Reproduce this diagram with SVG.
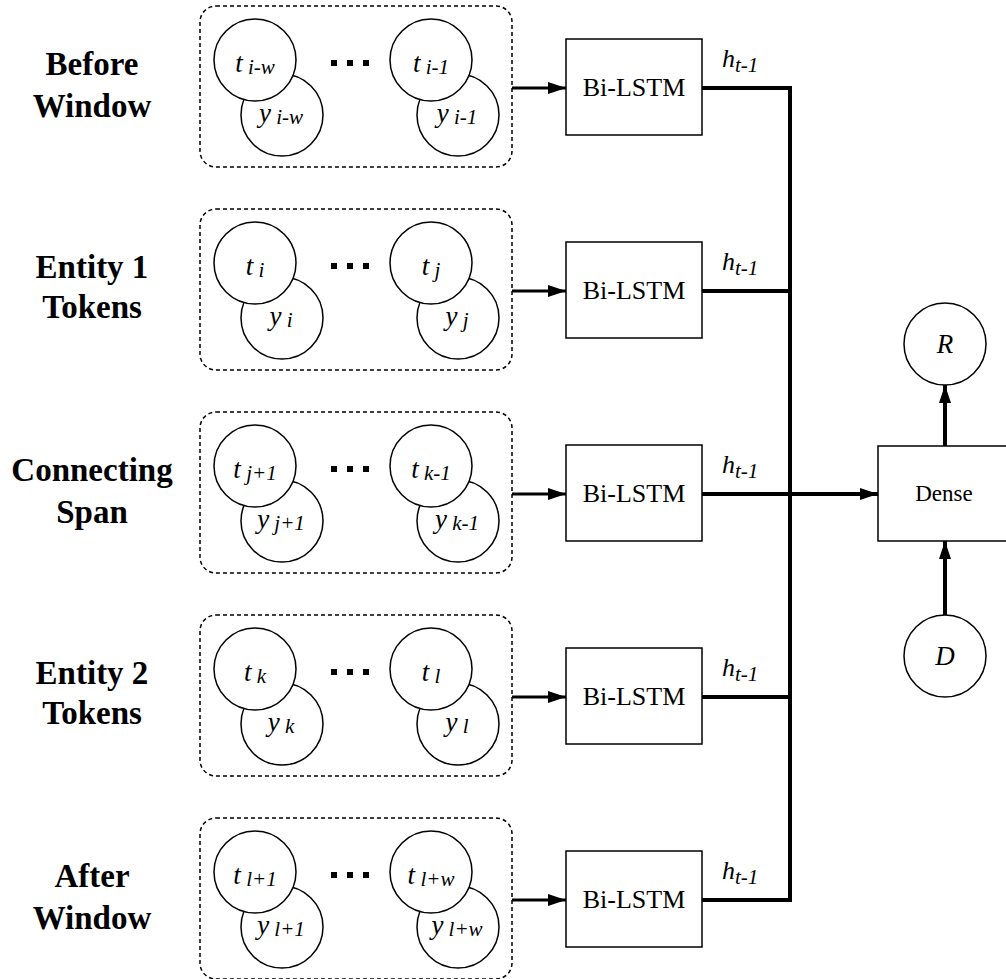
<svg xmlns="http://www.w3.org/2000/svg" width="1006" height="979" viewBox="0 0 1006 979" font-family="'Liberation Serif', serif">
<style>
.bg{fill:#fff}
.cont{fill:none;stroke:#000;stroke-width:1.5;stroke-dasharray:4 3}
.circ{fill:#fff;stroke:#000;stroke-width:1.5}
.box{fill:#fff;stroke:#000;stroke-width:1.5}
.lbl{font-weight:bold;font-size:33px;text-anchor:middle}
.var{font-style:italic;font-size:27px;text-anchor:middle}
.sub{font-size:21px}
.bt{font-size:26px;text-anchor:middle}
.dt{font-size:23px;text-anchor:middle}
.ht{font-style:italic;font-size:26px}
.in{fill:none;stroke:#000;stroke-width:3}
.out{fill:none;stroke:#000;stroke-width:4}
.dot{fill:#000}
</style>
<defs>
<marker id="ah" markerUnits="userSpaceOnUse" markerWidth="18" markerHeight="12" refX="18" refY="6" orient="auto">
<path d="M0,0 L18,6 L0,12 z" fill="#000"/>
</marker>
<g id="dots"><rect class="dot" x="331" y="0" width="6" height="6"/><rect class="dot" x="347" y="0" width="6" height="6"/><rect class="dot" x="363" y="0" width="6" height="6"/></g>
</defs>
<rect class="bg" x="0" y="0" width="1006" height="979"/>

<!-- Row 1 -->
<g id="row1">
<text class="lbl" x="92" y="75" font-family="'Liberation Serif', serif">Before</text>
<text class="lbl" x="92" y="117" font-family="'Liberation Serif', serif">Window</text>
<rect class="cont" x="200" y="6" width="312" height="161" rx="16"/>
<circle class="circ" cx="282" cy="115" r="41"/>
<circle class="circ" cx="255" cy="60" r="41"/>
<text class="var" x="255" y="72" font-family="'Liberation Serif', serif">t<tspan class="sub" dy="2"> i-w</tspan></text>
<text class="var" x="281" y="122" font-family="'Liberation Serif', serif">y<tspan class="sub" dy="2"> i-w</tspan></text>
<use href="#dots" y="60"/>
<circle class="circ" cx="458" cy="115" r="41"/>
<circle class="circ" cx="431" cy="60" r="41"/>
<text class="var" x="431" y="72" font-family="'Liberation Serif', serif">t<tspan class="sub" dy="2"> i-1</tspan></text>
<text class="var" x="457" y="122" font-family="'Liberation Serif', serif">y<tspan class="sub" dy="2"> i-1</tspan></text>
</g>
<g id="lstm1"><rect class="box" x="566" y="39" width="136" height="96"/><text class="bt" x="634" y="96" font-family="'Liberation Serif', serif">Bi-LSTM</text></g>

<!-- Row 2 -->
<g id="row2">
<text class="lbl" x="92" y="278" font-family="'Liberation Serif', serif">Entity 1</text>
<text class="lbl" x="92" y="318" font-family="'Liberation Serif', serif">Tokens</text>
<rect class="cont" x="200" y="209" width="312" height="161" rx="16"/>
<circle class="circ" cx="282" cy="318" r="41"/>
<circle class="circ" cx="255" cy="263" r="41"/>
<text class="var" x="255" y="275" font-family="'Liberation Serif', serif">t<tspan class="sub" dy="2"> i</tspan></text>
<text class="var" x="281" y="325" font-family="'Liberation Serif', serif">y<tspan class="sub" dy="2"> i</tspan></text>
<use href="#dots" y="263"/>
<circle class="circ" cx="458" cy="318" r="41"/>
<circle class="circ" cx="431" cy="263" r="41"/>
<text class="var" x="431" y="275" font-family="'Liberation Serif', serif">t<tspan class="sub" dy="2"> j</tspan></text>
<text class="var" x="457" y="325" font-family="'Liberation Serif', serif">y<tspan class="sub" dy="2"> j</tspan></text>
</g>
<g id="lstm2"><rect class="box" x="566" y="242" width="136" height="96"/><text class="bt" x="634" y="299" font-family="'Liberation Serif', serif">Bi-LSTM</text></g>

<!-- Row 3 -->
<g id="row3">
<text class="lbl" x="92" y="481" font-family="'Liberation Serif', serif">Connecting</text>
<text class="lbl" x="92" y="523" font-family="'Liberation Serif', serif">Span</text>
<rect class="cont" x="200" y="412" width="312" height="161" rx="16"/>
<circle class="circ" cx="282" cy="521" r="41"/>
<circle class="circ" cx="255" cy="466" r="41"/>
<text class="var" x="255" y="478" font-family="'Liberation Serif', serif">t<tspan class="sub" dy="2"> j+1</tspan></text>
<text class="var" x="281" y="528" font-family="'Liberation Serif', serif">y<tspan class="sub" dy="2"> j+1</tspan></text>
<use href="#dots" y="466"/>
<circle class="circ" cx="458" cy="521" r="41"/>
<circle class="circ" cx="431" cy="466" r="41"/>
<text class="var" x="431" y="478" font-family="'Liberation Serif', serif">t<tspan class="sub" dy="2"> k-1</tspan></text>
<text class="var" x="457" y="528" font-family="'Liberation Serif', serif">y<tspan class="sub" dy="2"> k-1</tspan></text>
</g>
<g id="lstm3"><rect class="box" x="566" y="445" width="136" height="96"/><text class="bt" x="634" y="502" font-family="'Liberation Serif', serif">Bi-LSTM</text></g>

<!-- Row 4 -->
<g id="row4">
<text class="lbl" x="92" y="684" font-family="'Liberation Serif', serif">Entity 2</text>
<text class="lbl" x="92" y="724" font-family="'Liberation Serif', serif">Tokens</text>
<rect class="cont" x="200" y="615" width="312" height="161" rx="16"/>
<circle class="circ" cx="282" cy="724" r="41"/>
<circle class="circ" cx="255" cy="669" r="41"/>
<text class="var" x="255" y="681" font-family="'Liberation Serif', serif">t<tspan class="sub" dy="2"> k</tspan></text>
<text class="var" x="281" y="731" font-family="'Liberation Serif', serif">y<tspan class="sub" dy="2"> k</tspan></text>
<use href="#dots" y="669"/>
<circle class="circ" cx="458" cy="724" r="41"/>
<circle class="circ" cx="431" cy="669" r="41"/>
<text class="var" x="431" y="681" font-family="'Liberation Serif', serif">t<tspan class="sub" dy="2"> l</tspan></text>
<text class="var" x="457" y="731" font-family="'Liberation Serif', serif">y<tspan class="sub" dy="2"> l</tspan></text>
</g>
<g id="lstm4"><rect class="box" x="566" y="648" width="136" height="96"/><text class="bt" x="634" y="705" font-family="'Liberation Serif', serif">Bi-LSTM</text></g>

<!-- Row 5 -->
<g id="row5">
<text class="lbl" x="92" y="887" font-family="'Liberation Serif', serif">After</text>
<text class="lbl" x="92" y="929" font-family="'Liberation Serif', serif">Window</text>
<rect class="cont" x="200" y="818" width="312" height="161" rx="16"/>
<circle class="circ" cx="282" cy="927" r="41"/>
<circle class="circ" cx="255" cy="872" r="41"/>
<text class="var" x="255" y="884" font-family="'Liberation Serif', serif">t<tspan class="sub" dy="2"> l+1</tspan></text>
<text class="var" x="281" y="934" font-family="'Liberation Serif', serif">y<tspan class="sub" dy="2"> l+1</tspan></text>
<use href="#dots" y="872"/>
<circle class="circ" cx="458" cy="927" r="41"/>
<circle class="circ" cx="431" cy="872" r="41"/>
<text class="var" x="431" y="884" font-family="'Liberation Serif', serif">t<tspan class="sub" dy="2"> l+w</tspan></text>
<text class="var" x="457" y="934" font-family="'Liberation Serif', serif">y<tspan class="sub" dy="2"> l+w</tspan></text>
</g>
<g id="lstm5"><rect class="box" x="566" y="851" width="136" height="96"/><text class="bt" x="634" y="908" font-family="'Liberation Serif', serif">Bi-LSTM</text></g>

<!-- Right side nodes -->
<g id="dense"><rect class="box" x="878" y="446" width="140" height="95"/><text class="dt" x="944" y="501" font-family="'Liberation Serif', serif">Dense</text></g>
<g id="R"><circle class="circ" cx="945" cy="344" r="41"/><text class="var" x="945" y="353" font-family="'Liberation Serif', serif">R</text></g>
<g id="D"><circle class="circ" cx="945" cy="656" r="41"/><text class="var" x="945" y="665" font-family="'Liberation Serif', serif">D</text></g>

<!-- Connectors -->
<g id="connectors">
<path class="in" d="M512,88 H566" marker-end="url(#ah)"/>
<path class="in" d="M512,291 H566" marker-end="url(#ah)"/>
<path class="in" d="M512,494 H566" marker-end="url(#ah)"/>
<path class="in" d="M512,697 H566" marker-end="url(#ah)"/>
<path class="in" d="M512,900 H566" marker-end="url(#ah)"/>
<path class="out" d="M702,88 H790 V900 H702"/>
<path class="out" d="M702,291 H790"/>
<path class="out" d="M702,697 H790"/>
<path class="out" d="M702,494 H878" marker-end="url(#ah)"/>
<path class="out" d="M945,446 V385" marker-end="url(#ah)"/>
<path class="out" d="M945,615 V541" marker-end="url(#ah)"/>
<text class="ht" x="722" y="67" font-family="'Liberation Serif', serif">h<tspan class="sub" dy="5">t-1</tspan></text>
<text class="ht" x="722" y="270" font-family="'Liberation Serif', serif">h<tspan class="sub" dy="5">t-1</tspan></text>
<text class="ht" x="722" y="473" font-family="'Liberation Serif', serif">h<tspan class="sub" dy="5">t-1</tspan></text>
<text class="ht" x="722" y="676" font-family="'Liberation Serif', serif">h<tspan class="sub" dy="5">t-1</tspan></text>
<text class="ht" x="722" y="879" font-family="'Liberation Serif', serif">h<tspan class="sub" dy="5">t-1</tspan></text>
</g>
</svg>
